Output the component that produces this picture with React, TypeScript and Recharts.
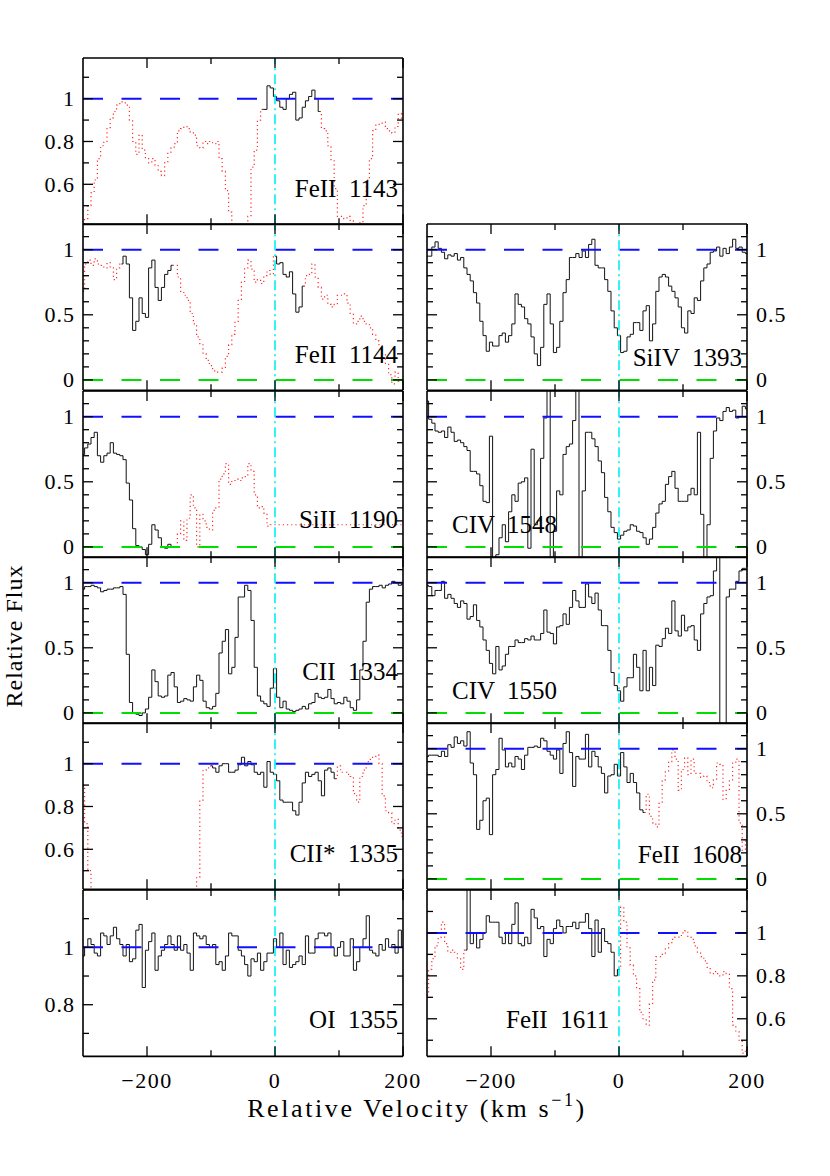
import { LineChart, Line, XAxis, YAxis, ReferenceLine } from 'recharts';

const FONT = '"Liberation Serif", "Times New Roman", serif';

// velocity bins (km/s); every flux array below has one value per bin, -300 .. 200
const velocity: number[] = [];
for (let v = -300; v <= 200; v += 5) velocity.push(v);

// normalised flux (rows of 10 bins = 50 km/s)
const feII1143 = [
  0.40, 0.44, 0.50, 0.56, 0.62, 0.72, 0.78, 0.80, 0.86, 0.91,
  0.94, 0.97, 0.985, 0.98, 0.97, 0.90, 0.80, 0.74, 0.83, 0.76,
  0.72, 0.70, 0.72, 0.69, 0.66, 0.64, 0.70, 0.75, 0.77, 0.79,
  0.85, 0.86, 0.87, 0.86, 0.84, 0.83, 0.78, 0.77, 0.80, 0.79,
  0.80, 0.79, 0.80, 0.72, 0.66, 0.57, 0.47, 0.40, 0.38, 0.38,
  0.38, 0.40, 0.45, 0.68, 0.76, 0.90, 0.95, 0.95, 1.06, 1.05,
  1.01, 0.99, 0.96, 0.95, 1.00, 1.02, 1.03, 0.90, 0.91, 0.96,
  0.99, 1.01, 1.04, 1.00, 0.94, 0.86, 0.85, 0.78, 0.71, 0.58,
  0.45, 0.45, 0.44, 0.45, 0.43, 0.40, 0.40, 0.42, 0.50, 0.62,
  0.72, 0.85, 0.88, 0.88, 0.89, 0.86, 0.85, 0.84, 0.87, 0.93,
  0.90,
];

const feII1144 = [
  0.68, 0.89, 0.92, 0.88, 0.93, 0.89, 0.88, 0.86, 0.90, 0.86,
  0.77, 0.86, 0.89, 0.95, 0.89, 0.63, 0.38, 0.45, 0.63, 0.51,
  0.48, 0.86, 0.92, 0.71, 0.61, 0.71, 0.81, 0.84, 0.88, 0.88,
  0.79, 0.68, 0.65, 0.61, 0.51, 0.43, 0.33, 0.27, 0.20, 0.15,
  0.11, 0.07, 0.06, 0.06, 0.09, 0.18, 0.27, 0.35, 0.45, 0.61,
  0.75, 0.86, 0.92, 0.85, 0.75, 0.77, 0.74, 0.80, 0.84, 0.81,
  0.95, 0.89, 0.90, 0.81, 0.79, 0.83, 0.66, 0.52, 0.56, 0.72,
  0.80, 0.81, 0.89, 0.79, 0.71, 0.62, 0.65, 0.58, 0.56, 0.58,
  0.65, 0.65, 0.66, 0.59, 0.51, 0.43, 0.45, 0.49, 0.45, 0.43,
  0.40, 0.35, 0.30, 0.27, 0.20, 0.12, 0.04, -0.03, 0.06, -0.01,
  -0.01,
];

const siII1190 = [
  0.71, 0.76, 0.79, 0.84, 0.88, 0.70, 0.65, 0.70, 0.72, 0.80,
  0.72, 0.71, 0.70, 0.67, 0.49, 0.36, 0.14, 0.01, 0.00, -0.02,
  -0.06, 0.02, 0.17, 0.13, 0.07, 0.00, -0.01, 0.02, 0.00, 0.00,
  0.10, 0.20, 0.05, 0.22, 0.40, 0.30, 0.00, 0.25, 0.20, 0.15,
  0.13, 0.28, 0.30, 0.52, 0.56, 0.64, 0.48, 0.51, 0.52, 0.51,
  0.53, 0.54, 0.64, 0.58, 0.40, 0.30, 0.31, 0.26, 0.16, 0.17,
  0.17, 0.17, 0.17, 0.17, 0.17, 0.17, 0.17, 0.17, 0.17, 0.17,
  0.17, 0.17, 0.17, 0.17, 0.17, 0.17, 0.17, 0.17, 0.17, 0.17,
  0.17, 0.17, 0.17, 0.17, 0.17, 0.17, 0.17, 0.17, 0.17, 0.17,
  0.17, 0.17, 0.17, 0.17, 0.17, 0.17, 0.17, 0.17, 0.17, 0.17,
  0.17,
];

const cII1334 = [
  0.95, 0.97, 0.97, 0.98, 0.97, 0.96, 0.93, 0.94, 0.95, 0.95,
  0.96, 0.96, 0.97, 0.91, 0.45, 0.08, 0.00, -0.01, -0.02, 0.00,
  0.03, 0.12, 0.33, 0.24, 0.13, 0.12, 0.13, 0.29, 0.31, 0.20,
  0.08, 0.09, 0.11, 0.10, 0.09, 0.20, 0.29, 0.25, 0.09, 0.04,
  0.03, 0.05, 0.15, 0.46, 0.55, 0.64, 0.30, 0.35, 0.58, 0.89,
  0.89, 0.98, 0.94, 0.71, 0.35, 0.13, 0.09, 0.07, 0.05, 0.19,
  0.34, 0.12, 0.04, 0.09, 0.03, 0.02, 0.01, 0.02, 0.03, 0.05,
  0.03, 0.07, 0.08, 0.15, 0.12, 0.11, 0.12, 0.18, 0.11, 0.07,
  0.08, 0.07, 0.12, 0.09, 0.04, 0.02, 0.10, 0.33, 0.55, 0.85,
  0.95, 0.97, 0.97, 0.98, 0.96, 0.98, 0.99, 1.01, 1.00, 0.98,
  0.99,
];

const cIIs1335 = [
  0.90, 0.72, 0.50, 0.30, 0.30, 0.30, 0.30, 0.30, 0.30, 0.30,
  0.30, 0.30, 0.30, 0.30, 0.30, 0.30, 0.30, 0.30, 0.30, 0.30,
  0.30, 0.30, 0.30, 0.30, 0.30, 0.30, 0.30, 0.30, 0.30, 0.30,
  0.30, 0.30, 0.30, 0.30, 0.30, 0.30, 0.47, 0.83, 0.97, 0.98,
  0.99, 0.98, 0.96, 0.99, 1.00, 1.00, 0.96, 0.96, 0.97, 0.995,
  1.03, 0.99, 1.01, 0.995, 0.96, 0.95, 0.96, 0.89, 1.01, 0.96,
  0.95, 0.92, 0.83, 0.82, 0.82, 0.82, 0.78, 0.76, 0.82, 0.91,
  0.96, 0.94, 0.95, 0.96, 0.92, 0.85, 0.97, 0.98, 0.96, 0.93,
  0.99, 0.96, 0.96, 0.95, 0.94, 0.86, 0.82, 0.94, 0.97, 1.01,
  1.02, 1.03, 1.04, 1.00, 0.85, 0.78, 0.77, 0.72, 0.74, 0.69,
  0.66,
];

const oI1355 = [
  0.97, 1.00, 1.03, 1.01, 0.98, 0.97, 1.05, 1.04, 1.01, 1.04,
  1.07, 1.03, 1.01, 0.97, 1.01, 0.95, 0.96, 1.06, 1.08, 0.86,
  0.99, 1.02, 1.05, 0.92, 0.97, 0.99, 1.01, 1.04, 1.01, 0.99,
  1.04, 0.99, 1.01, 0.98, 0.92, 1.05, 1.04, 1.03, 1.04, 1.01,
  1.00, 1.01, 0.94, 0.95, 0.92, 0.97, 1.05, 1.04, 1.04, 0.99,
  0.97, 0.94, 0.90, 0.96, 0.95, 0.98, 0.92, 0.95, 0.98, 0.98,
  1.03, 1.00, 1.05, 0.94, 0.99, 0.93, 0.94, 0.95, 0.97, 0.94,
  1.04, 0.98, 0.98, 1.03, 1.05, 1.05, 1.04, 1.05, 1.00, 0.97,
  1.00, 1.02, 0.97, 0.97, 1.03, 0.92, 0.95, 1.00, 1.03, 1.11,
  0.99, 0.98, 0.97, 1.01, 0.99, 1.03, 1.00, 1.01, 0.98, 1.06,
  1.00,
];

const siIV1393 = [
  0.95, 0.95, 1.02, 1.06, 1.01, 0.98, 0.93, 0.96, 0.95, 0.97,
  0.92, 0.94, 0.86, 0.81, 0.76, 0.67, 0.59, 0.45, 0.34, 0.22,
  0.29, 0.26, 0.26, 0.34, 0.36, 0.29, 0.34, 0.43, 0.66, 0.58,
  0.56, 0.47, 0.43, 0.33, 0.20, 0.11, 0.25, 0.58, 0.66, 0.43,
  0.21, 0.25, 0.45, 0.67, 0.77, 0.94, 0.94, 0.97, 0.94, 0.99,
  0.94, 1.04, 1.08, 0.88, 0.86, 0.86, 0.77, 0.68, 0.53, 0.40,
  0.34, 0.21, 0.22, 0.33, 0.35, 0.44, 0.44, 0.38, 0.53, 0.57,
  0.30, 0.43, 0.68, 0.79, 0.81, 0.79, 0.72, 0.68, 0.63, 0.56,
  0.40, 0.36, 0.53, 0.51, 0.63, 0.61, 0.76, 0.86, 0.89, 0.98,
  0.99, 1.02, 0.95, 1.01, 0.97, 1.02, 1.08, 1.01, 1.02, 0.98,
  0.97,
];

const cIV1548 = [
  1.12, 0.98, 0.95, 0.89, 0.88, 0.89, 0.84, 0.92, 0.88, 0.81,
  0.82, 0.80, 0.77, 0.74, 0.58, 0.58, 0.56, 0.47, 0.35, 0.34,
  0.85, -0.10, -0.06, 0.07, 0.17, 0.04, 0.27, 0.40, 0.35, 0.49,
  0.50, 0.53, -0.01, 0.75, 0.17, 0.20, 0.68, 0.99, 1.25, -0.10,
  0.12, 0.43, 0.40, 0.71, 0.77, 0.79, 0.97, 1.25, -0.10, 0.43,
  0.88, 0.88, 0.83, 0.77, 0.66, 0.57, 0.38, 0.27, 0.15, 0.11,
  0.06, 0.09, 0.12, 0.13, 0.17, 0.16, 0.12, 0.11, 0.07, 0.02,
  0.06, 0.15, 0.26, 0.33, 0.35, 0.48, 0.54, 0.58, 0.45, 0.35,
  0.35, 0.35, 0.40, 0.45, 0.40, 0.88, 0.25, -0.10, 0.17, 0.68,
  0.89, 0.99, 0.97, 1.04, 1.07, 1.04, 1.05, 0.99, 1.00, 1.08,
  1.06,
];

const cIV1550 = [
  0.98, 0.97, 0.90, 0.94, 0.94, 1.01, 0.88, 0.91, 0.88, 0.84,
  0.81, 0.86, 0.84, 0.72, 0.74, 0.83, 0.71, 0.66, 0.56, 0.48,
  0.38, 0.30, 0.51, 0.33, 0.36, 0.45, 0.51, 0.51, 0.56, 0.54,
  0.54, 0.57, 0.56, 0.59, 0.56, 0.56, 0.61, 0.79, 0.62, 0.61,
  0.53, 0.66, 0.67, 0.76, 0.68, 0.81, 0.94, 0.86, 0.81, 0.81,
  0.99, 0.89, 0.84, 0.92, 0.79, 0.67, 0.67, 0.48, 0.31, 0.21,
  0.17, 0.09, 0.20, 0.27, 0.27, 0.45, 0.35, 0.17, 0.48, 0.17,
  0.35, 0.21, 0.52, 0.51, 0.57, 0.65, 0.61, 0.86, 0.63, 0.59,
  0.75, 0.63, 0.66, 0.67, 0.56, 0.48, 0.76, 0.84, 0.89, 0.90,
  1.09, 1.30, -0.15, -0.15, 0.89, 0.95, 0.95, 1.01, 1.09, 1.11,
  1.11,
];

const feII1608 = [
  0.94, 0.95, 0.95, 0.95, 0.94, 0.98, 0.94, 1.03, 1.01, 1.09,
  1.04, 1.06, 1.02, 1.13, 0.89, 0.80, 0.38, 0.45, 0.60, 0.62,
  0.34, 0.80, 0.84, 1.08, 0.99, 0.86, 0.89, 0.86, 0.94, 0.92,
  0.84, 0.95, 1.01, 1.01, 1.02, 1.01, 1.08, 1.06, 0.98, 0.95,
  0.92, 0.99, 0.81, 1.04, 1.13, 0.97, 0.71, 0.94, 0.92, 0.92,
  1.11, 0.86, 0.98, 0.94, 0.86, 0.81, 0.66, 0.79, 0.80, 0.88,
  0.79, 0.97, 0.86, 0.74, 0.81, 0.74, 0.66, 0.53, 0.51, 0.65,
  0.48, 0.43, 0.40, 0.58, 0.76, 0.83, 0.90, 0.99, 0.92, 0.68,
  0.84, 0.93, 0.80, 0.92, 0.81, 0.81, 0.78, 0.79, 0.74, 0.70,
  0.76, 0.89, 0.88, 0.61, 0.68, 0.76, 0.89, 0.92, 0.43, 0.22,
  0.29,
];

const feII1611 = [
  0.71, 0.83, 0.88, 0.94, 0.98, 1.05, 0.95, 0.91, 0.92, 0.91,
  0.88, 0.83, 0.92, 1.25, 0.95, 1.00, 0.93, 0.97, 1.00, 1.08,
  1.05, 1.05, 1.05, 0.98, 0.95, 1.00, 0.95, 1.04, 1.14, 0.95,
  0.94, 0.98, 0.95, 1.11, 1.07, 1.02, 1.03, 0.89, 0.97, 0.95,
  1.02, 1.06, 1.03, 1.00, 1.03, 1.03, 1.05, 1.02, 1.05, 1.05,
  1.09, 1.02, 0.89, 1.06, 0.91, 1.02, 0.96, 0.95, 0.91, 0.80,
  0.83, 1.12, 1.05, 0.93, 0.85, 0.80, 0.74, 0.63, 0.60, 0.57,
  0.67, 0.78, 0.89, 0.89, 0.90, 0.93, 0.95, 0.97, 0.98, 0.98,
  1.00, 1.01, 0.98, 0.97, 0.94, 0.91, 0.89, 0.87, 0.84, 0.81,
  0.82, 0.81, 0.80, 0.82, 0.81, 0.74, 0.57, 0.54, 0.50, 0.44,
  0.46,
];

// y scales used by the panels
const scaleFine = { domain: [0.413, 1.19], ticks: [0.5, 0.6, 0.7, 0.8, 0.9, 1, 1.1], labels: [0.6, 0.8, 1] };
const scaleFull = { domain: [-0.08, 1.197], ticks: [0, 0.1, 0.2, 0.3, 0.4, 0.5, 0.6, 0.7, 0.8, 0.9, 1, 1.1], labels: [0, 0.5, 1] };
const scaleOI = { domain: [0.62, 1.2], ticks: [0.7, 0.8, 0.9, 1, 1.1], labels: [0.8, 1] };
const scale1611 = { domain: [0.425, 1.2], ticks: [0.5, 0.6, 0.7, 0.8, 0.9, 1, 1.1], labels: [0.6, 0.8, 1] };

const xTicks = [-200, -100, 0, 100, 200];
const xMajor = [-200, 0, 200];

// black = velocity ranges drawn solid, the rest is dotted red (blended)
const panels = [
  { ion: 'FeII  1143', flux: feII1143, black: [[-20, 70]], col: 0, row: 0, scale: scaleFine, lx: 398, ly: 197, anchor: 'end' },
  { ion: 'FeII  1144', flux: feII1144, black: [[-240, -160], [0, 45]], col: 0, row: 1, scale: scaleFull, lx: 398, ly: 363, anchor: 'end' },
  { ion: 'SiII  1190', flux: siII1190, black: [[-300, -160]], col: 0, row: 2, scale: scaleFull, lx: 398, ly: 528, anchor: 'end' },
  { ion: 'CII  1334', flux: cII1334, black: [[-300, 200]], col: 0, row: 3, scale: scaleFull, lx: 398, ly: 680, anchor: 'end' },
  { ion: 'CII*  1335', flux: cIIs1335, black: [[-100, 95]], col: 0, row: 4, scale: scaleFine, lx: 398, ly: 862, anchor: 'end' },
  { ion: 'OI  1355', flux: oI1355, black: [[-300, 200]], col: 0, row: 5, scale: scaleOI, lx: 398, ly: 1028, anchor: 'end' },
  { ion: 'SiIV  1393', flux: siIV1393, black: [[-300, 200]], col: 1, row: 1, scale: scaleFull, lx: 742, ly: 366, anchor: 'end' },
  { ion: 'CIV  1548', flux: cIV1548, black: [[-300, 200]], col: 1, row: 2, scale: scaleFull, lx: 452, ly: 533, anchor: 'start' },
  { ion: 'CIV  1550', flux: cIV1550, black: [[-300, 200]], col: 1, row: 3, scale: scaleFull, lx: 452, ly: 699, anchor: 'start' },
  { ion: 'FeII  1608', flux: feII1608, black: [[-300, 40]], col: 1, row: 4, scale: scaleFull, lx: 742, ly: 863, anchor: 'end' },
  { ion: 'FeII  1611', flux: feII1611, black: [[-240, 0]], col: 1, row: 5, scale: scale1611, lx: 506, ly: 1028, anchor: 'start' },
];

const COL_X = [83, 427];
const BOX_W = 320;
const BOX_H = 166.33;
const TOP = 58;

const near = (a: number, b: number) => Math.abs(a - b) < 1e-6;
const fmt = (v: number) => (v < 0 ? '\u2212' + String(-v) : String(Math.round(v * 10) / 10));

function yTick(side: 'left' | 'right', labels: number[], showLabel: boolean) {
  return (props: any) => {
    const { x, y, payload } = props;
    const major = labels.some((l) => near(l, payload.value));
    const dir = side === 'left' ? 1 : -1;
    return (
      <g>
        <line x1={x} x2={x + dir * (major ? 10 : 6)} y1={y} y2={y} stroke="#000" strokeWidth={1.3} />
        {showLabel && major && (
          <text
            x={side === 'left' ? x - 8 : x + 9}
            y={y}
            textAnchor={side === 'left' ? 'end' : 'start'}
            dominantBaseline="central"
            fontFamily={FONT}
            fontSize={22}
            letterSpacing={1}
            fill="#000"
          >
            {fmt(payload.value)}
          </text>
        )}
      </g>
    );
  };
}

function xTick(side: 'top' | 'bottom', showLabel: boolean) {
  return (props: any) => {
    const { x, y, payload } = props;
    const major = xMajor.some((m) => near(m, payload.value));
    const dir = side === 'bottom' ? -1 : 1;
    return (
      <g>
        <line x1={x} x2={x} y1={y} y2={y + dir * (major ? 10 : 6)} stroke="#000" strokeWidth={1.3} />
        {showLabel && major && (
          <text x={x} y={y + 32} textAnchor="middle" fontFamily={FONT} fontSize={22} letterSpacing={1.5} fill="#000">
            {fmt(payload.value)}
          </text>
        )}
      </g>
    );
  };
}

function Panel({ p }: { p: (typeof panels)[number] }) {
  const bottom = p.row === 5;
  const padL = 60;
  const padR = 60;
  const padT = 10;
  const padB = bottom ? 45 : 10;
  const inBlack = (v: number) => p.black.some(([a, b]) => v >= a && v <= b);
  const data = velocity.map((v, i) => {
    const f = p.flux[i];
    const b = inBlack(v);
    const edge = b && ((v > -300 && !inBlack(v - 5)) || (v < 200 && !inBlack(v + 5)));
    return { v, black: b ? f : null, red: !b || edge ? f : null };
  });
  const axisLine = { stroke: '#000', strokeWidth: 1.6 };
  const { scale } = p;
  const hasZero = scale.domain[0] < 0;
  return (
    <div style={{ position: 'absolute', left: COL_X[p.col] - padL, top: TOP + p.row * BOX_H - padT }}>
      <LineChart
        width={padL + BOX_W + padR}
        height={padT + BOX_H + padB}
        data={data}
        margin={{ top: padT - 1, right: padR - 1, bottom: padB - 1, left: padL - 1 }}
      >
        <XAxis
          xAxisId="b"
          dataKey="v"
          type="number"
          orientation="bottom"
          domain={[-300, 200]}
          allowDataOverflow
          ticks={xTicks}
          interval={0}
          height={1}
          tickSize={0}
          tickMargin={0}
          tickLine={false}
          axisLine={axisLine}
          tick={xTick('bottom', bottom)}
        />
        <XAxis
          xAxisId="t"
          dataKey="v"
          type="number"
          orientation="top"
          domain={[-300, 200]}
          allowDataOverflow
          ticks={xTicks}
          interval={0}
          height={1}
          tickSize={0}
          tickMargin={0}
          tickLine={false}
          axisLine={axisLine}
          tick={xTick('top', false)}
        />
        <YAxis
          yAxisId="l"
          type="number"
          orientation="left"
          domain={scale.domain}
          allowDataOverflow
          ticks={scale.ticks}
          interval={0}
          width={1}
          tickSize={0}
          tickMargin={0}
          tickLine={false}
          axisLine={axisLine}
          tick={yTick('left', scale.labels, p.col === 0)}
        />
        <YAxis
          yAxisId="r"
          type="number"
          orientation="right"
          domain={scale.domain}
          allowDataOverflow
          ticks={scale.ticks}
          interval={0}
          width={1}
          tickSize={0}
          tickMargin={0}
          tickLine={false}
          axisLine={axisLine}
          tick={yTick('right', scale.labels, p.col === 1)}
        />
        <Line
          xAxisId="b"
          yAxisId="l"
          dataKey="red"
          type="step"
          stroke="#ff2a2a"
          strokeWidth={1.2}
          strokeDasharray="1.2 3"
          dot={false}
          activeDot={false}
          connectNulls={false}
          isAnimationActive={false}
        />
        <Line
          xAxisId="b"
          yAxisId="l"
          dataKey="black"
          type="step"
          stroke="#111"
          strokeWidth={1}
          dot={false}
          activeDot={false}
          connectNulls={false}
          isAnimationActive={false}
        />
        <ReferenceLine xAxisId="b" yAxisId="l" y={1} stroke="#1010ff" strokeWidth={2} strokeDasharray="20 18.5" />
        {hasZero && (
          <ReferenceLine xAxisId="b" yAxisId="l" y={0} stroke="#00e000" strokeWidth={2} strokeDasharray="20 18.5" />
        )}
        <ReferenceLine xAxisId="b" yAxisId="l" x={0} stroke="#00f0f0" strokeWidth={1.6} strokeDasharray="10 4 2 4" />
      </LineChart>
    </div>
  );
}

export default function App() {
  return (
    <div style={{ position: 'absolute', left: 0, top: 0, width: 830, height: 1176, background: '#fff' }}>
      {panels.map((p) => (
        <Panel key={p.ion} p={p} />
      ))}
      <svg width={830} height={1176} style={{ position: 'absolute', left: 0, top: 0, pointerEvents: 'none' }}>
        {panels.map((p) => (
          <text
            key={p.ion}
            x={p.lx}
            y={p.ly}
            textAnchor={p.anchor as any}
            fontFamily={FONT}
            fontSize={25}
            fill="#000"
            style={{ whiteSpace: 'pre' }}
          >
            {p.ion}
          </text>
        ))}
        <text
          x={22}
          y={636}
          transform="rotate(-90 22 636)"
          textAnchor="middle"
          fontFamily={FONT}
          fontSize={24}
          letterSpacing={1}
          fill="#000"
        >
          Relative Flux
        </text>
        <text x={417} y={1117} textAnchor="middle" fontFamily={FONT} fontSize={26} letterSpacing={2.6} fill="#000" style={{ whiteSpace: 'pre' }}>
          {'Relative Velocity (km s'}
          <tspan dy={-11} fontSize={18}>
            {'\u22121'}
          </tspan>
          <tspan dy={11}>)</tspan>
        </text>
      </svg>
    </div>
  );
}
